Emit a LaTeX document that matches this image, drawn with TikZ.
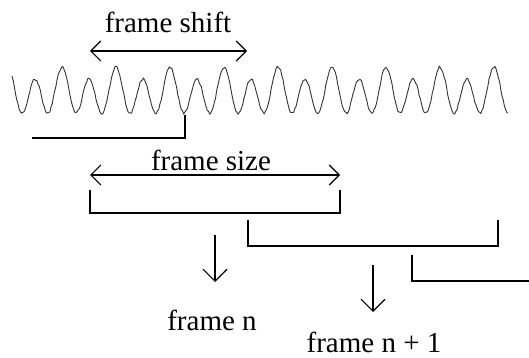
\documentclass[tikz,border=0pt]{standalone}
\usepackage{fontspec}
\setmainfont{Liberation Serif}
\usetikzlibrary{arrows.meta,positioning}
\tikzset{
  barb/.tip={Straight Barb[length=10pt, width=20pt, line width=1.1pt]},
  downbarb/.tip={Straight Barb[length=12pt, width=24pt, line width=1.1pt]}
}

\begin{document}
\begin{tikzpicture}[x=1pt, y=-1pt, line width=1.1pt,
    every node/.style={font=\fontsize{29}{34}\selectfont, inner sep=0pt, anchor=base}]
  \useasboundingbox (0,0) rectangle (529,358);
  % labels
  \node (shift) at (168,33) {frame shift};
  \node (size) at (211,170) {frame size};
  \node (fn) at (212,330) {frame n};
  \node (fn1) at (374,352) {frame n + 1};
  % signal
  \pgfmathsetseed{7}
  \draw[line width=0.9pt, line join=round, black!80] plot[domain=12:508, samples=420]
    (\x, {93 - 6*cos(6.6667*(\x-62)) - 20*cos(13.3333*(\x-62)) + 1.2*rand});
  % span arrows
  \coordinate (shiftL) at (90,51);
  \coordinate (shiftR) at (247,51);
  \coordinate (sizeL) at (90,175);
  \coordinate (sizeR) at (340,175);
  \draw[barb-barb] (shiftL) -- (shiftR);
  \draw[barb-barb] (sizeL) -- (sizeR);
  % frame brackets
  \coordinate (mark) at (185,115);
  \coordinate (prevL) at (32,138);
  \draw (prevL) -- (prevL -| mark) -- (mark);
  \coordinate (aL) at (90,190);
  \coordinate (aR) at (340,190);
  \draw (aL) -- ++(0,23) -| (aR);
  \coordinate (bL) at (248,220);
  \coordinate (bR) at (498,220);
  \draw (bL) -- ++(0,26) -| (bR);
  \coordinate (cL) at (412,255);
  \coordinate (cR) at (529,281);
  \draw (cL) |- (cR);
  % frame arrows
  \coordinate (aTop) at (215,235);
  \coordinate (aEnd) at (215,282);
  \coordinate (bTop) at (373,265);
  \coordinate (bEnd) at (373,312);
  \draw[-downbarb] (aTop) -- (aEnd);
  \draw[-downbarb] (bTop) -- (bEnd);
\end{tikzpicture}
\end{document}
